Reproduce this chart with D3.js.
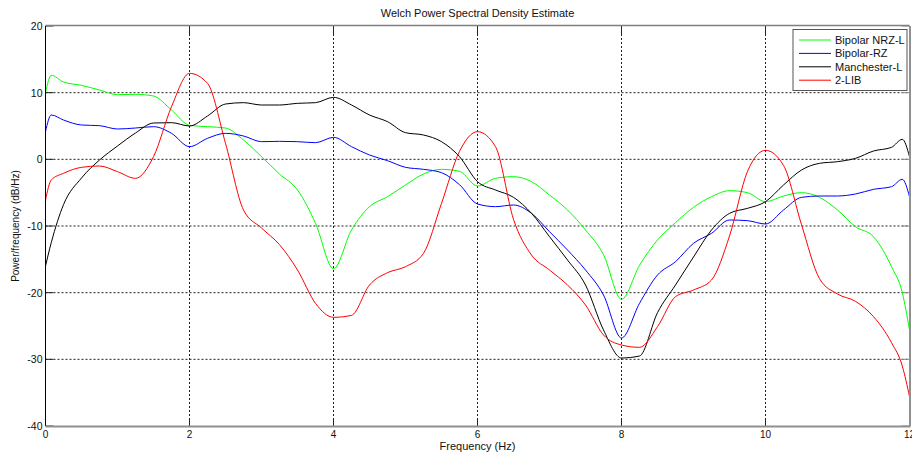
<!DOCTYPE html>
<html>
<head>
<meta charset="utf-8">
<script src="https://cdn.jsdelivr.net/npm/d3@7"></script>
<style>
body { margin: 0; background: #fff; overflow: hidden; }
text { font-family: "Liberation Sans", Arial, sans-serif; }
</style>
</head>
<body>
<div id="chart"></div>
<script>
var width = 912, height = 454;

// frequency grid (Hz)
var freq = [0, 0.08, 0.25, 0.5, 0.75, 1, 1.25, 1.5, 1.75, 2, 2.25, 2.5, 2.75, 3, 3.25, 3.5, 3.75,
  4, 4.25, 4.5, 4.75, 5, 5.25, 5.5, 5.75, 6, 6.25, 6.5, 6.75, 7, 7.25, 7.5, 7.75,
  8, 8.25, 8.5, 8.75, 9, 9.25, 9.5, 9.75, 10, 10.25, 10.5, 10.75, 11, 11.25, 11.5, 11.75, 11.9, 12];

var nrzL = [10, 12.6, 11.6, 11.1, 10.4, 9.7, 9.75, 9.5, 7.4, 5.1, 4.9, 4.7, 2.9, 0.4, -2.2, -4.6, -9.6,
  -16.4, -10.6, -7.1, -5.6, -3.85, -2.2, -1.5, -1.8, -4.0, -2.85, -2.6, -3.35, -5.35, -7.6, -10.6, -14.3,
  -21, -15.9, -12.1, -9.5, -7.2, -5.6, -4.7, -5.0, -6.35, -5.5, -5.0, -5.7, -7.6, -10.1, -11.6, -16.1, -20, -25.6];

var bipolarRZ = [4.15, 6.65, 5.9, 5.15, 5.05, 4.55, 4.7, 4.9, 3.9, 1.9, 3.15, 3.9, 3.5, 2.65, 2.7, 2.65, 2.5,
  3.3, 1.9, 0.65, -0.2, -1.2, -1.5, -2.0, -3.8, -6.7, -7.1, -6.85, -8.1, -10.85, -13.6, -16.6, -20.35,
  -26.8, -21.6, -17.35, -15.35, -12.6, -11.1, -9.1, -9.2, -9.7, -7.6, -5.7, -5.5, -5.5, -5.2, -4.5, -4.1, -3.0, -5.6];

var manchester = [-16, -12.5, -6.8, -2.8, -0.1, 2.0, 3.95, 5.45, 5.5, 5.0, 6.5, 8.3, 8.5, 8.15, 8.15, 8.4, 8.5,
  9.3, 8.15, 6.65, 5.65, 4.0, 3.65, 2.65, 0.4, -3.35, -4.6, -5.7, -8.1, -11.6, -15.1, -18.85, -25.6,
  -29.8, -29.5, -23.0, -18.85, -14.65, -10.6, -8.1, -7.35, -6.35, -3.85, -1.6, -0.6, -0.35, 0.15, 1.25, 1.8, 3.0, 0.4];

var lib2 = [-6.1, -3.1, -2.1, -1.2, -1.0, -1.85, -2.85, 0.4, 7.9, 12.9, 11.4, 2.4, -7.6, -10.3, -12.8, -16.6, -21.6,
  -23.7, -23.4, -18.85, -17.0, -16.1, -14.1, -6.6, 1.2, 4.15, 1.9, -9.0, -14.35, -16.6, -18.85, -21.85, -26.35,
  -27.85, -28.2, -25.1, -20.6, -19.6, -18.1, -11.5, -1.8, 1.35, -0.9, -9.8, -17.9, -20.2, -21.3, -23.6, -27.5, -31, -35.6];

var seriesNames = ["Bipolar NRZ-L", "Bipolar-RZ", "Manchester-L", "2-LIB"];
var seriesColors = ["#00ff00", "#0000ff", "#000000", "#ff0000"];
var seriesValues = [nrzL, bipolarRZ, manchester, lib2];

var xTicks = [0, 2, 4, 6, 8, 10, 12];
var yTicks = [-40, -30, -20, -10, 0, 10, 20];

var plotLeft = 45.5, plotRight = 909.5, plotTop = 26, plotBottom = 426;

var svg = d3.select("#chart").append("svg")
  .attr("width", width)
  .attr("height", height);

var x = d3.scaleLinear().domain([0, 12]).range([plotLeft, plotRight]);
var y = d3.scaleLinear().domain([-40, 20]).range([plotBottom, plotTop]);

// grid
svg.append("g").selectAll("line")
  .data(xTicks.slice(1, -1))
  .enter().append("line")
  .attr("x1", d => x(d)).attr("x2", d => x(d))
  .attr("y1", plotTop).attr("y2", plotBottom)
  .attr("stroke", "#222").attr("stroke-width", 1)
  .attr("stroke-dasharray", "2,2");

svg.append("g").selectAll("line")
  .data(yTicks.slice(1, -1))
  .enter().append("line")
  .attr("y1", d => y(d)).attr("y2", d => y(d))
  .attr("x1", plotLeft).attr("x2", plotRight)
  .attr("stroke", "#222").attr("stroke-width", 1)
  .attr("stroke-dasharray", "2,2");

// tick marks (inside)
var tickLen = 8;
svg.append("g").selectAll("line")
  .data(xTicks)
  .enter().append("line")
  .attr("x1", d => x(d)).attr("x2", d => x(d))
  .attr("y1", plotBottom).attr("y2", plotBottom - tickLen)
  .attr("stroke", "#222");
svg.append("g").selectAll("line")
  .data(xTicks)
  .enter().append("line")
  .attr("x1", d => x(d)).attr("x2", d => x(d))
  .attr("y1", plotTop).attr("y2", plotTop + tickLen)
  .attr("stroke", "#222");
svg.append("g").selectAll("line")
  .data(yTicks)
  .enter().append("line")
  .attr("y1", d => y(d)).attr("y2", d => y(d))
  .attr("x1", plotLeft).attr("x2", plotLeft + tickLen)
  .attr("stroke", "#222");
svg.append("g").selectAll("line")
  .data(yTicks)
  .enter().append("line")
  .attr("y1", d => y(d)).attr("y2", d => y(d))
  .attr("x1", plotRight).attr("x2", plotRight - tickLen)
  .attr("stroke", "#888");

// series lines
var line = d3.line()
  .x((d, i) => x(freq[i]))
  .y(d => y(d))
  .curve(d3.curveMonotoneX);

svg.append("defs").append("clipPath").attr("id", "plotclip")
  .append("rect").attr("x", plotLeft).attr("y", plotTop)
  .attr("width", plotRight - plotLeft).attr("height", plotBottom - plotTop);

svg.append("g").attr("clip-path", "url(#plotclip)")
  .selectAll("path")
  .data(seriesValues)
  .enter().append("path")
  .attr("d", line)
  .attr("fill", "none")
  .attr("stroke", (d, i) => seriesColors[i])
  .attr("stroke-width", 1);

// frame
svg.append("line").attr("x1", plotLeft).attr("x2", plotRight).attr("y1", plotTop - 0.5).attr("y2", plotTop - 0.5)
  .attr("stroke", "#808080").attr("stroke-width", 1.5);
svg.append("line").attr("x1", plotLeft).attr("x2", plotLeft).attr("y1", plotTop).attr("y2", plotBottom)
  .attr("stroke", "#000");
svg.append("line").attr("x1", plotLeft).attr("x2", plotRight + 1).attr("y1", plotBottom + 0.5).attr("y2", plotBottom + 0.5)
  .attr("stroke", "#909090").attr("stroke-width", 2);
svg.append("line").attr("x1", plotRight + 0.5).attr("x2", plotRight + 0.5).attr("y1", plotTop).attr("y2", plotBottom)
  .attr("stroke", "#909090").attr("stroke-width", 2);

// tick labels
svg.append("g").selectAll("text")
  .data(xTicks)
  .enter().append("text")
  .attr("x", d => x(d))
  .attr("y", plotBottom + 12)
  .attr("text-anchor", "middle")
  .attr("font-size", "10px")
  .attr("fill", "#111")
  .text(d => d);

svg.append("g").selectAll("text")
  .data(yTicks)
  .enter().append("text")
  .attr("x", plotLeft - 3)
  .attr("y", d => y(d) + 4)
  .attr("text-anchor", "end")
  .attr("font-size", "10.5px")
  .attr("fill", "#111")
  .text(d => d);

// title and axis labels
svg.append("text")
  .attr("x", (plotLeft + plotRight) / 2).attr("y", 17)
  .attr("text-anchor", "middle").attr("font-size", "11px").attr("fill", "#111")
  .text("Welch Power Spectral Density Estimate");

svg.append("text")
  .attr("x", (plotLeft + plotRight) / 2).attr("y", 450)
  .attr("text-anchor", "middle").attr("font-size", "11px").attr("fill", "#111")
  .text("Frequency (Hz)");

svg.append("text")
  .attr("transform", "translate(19," + ((plotTop + plotBottom) / 2) + ") rotate(-90)")
  .attr("text-anchor", "middle").attr("font-size", "10px").attr("fill", "#111")
  .text("Power/frequency (dB/Hz)");

// legend
var lg = svg.append("g").attr("transform", "translate(793,29.5)");
lg.append("rect")
  .attr("width", 114).attr("height", 61)
  .attr("fill", "#fff").attr("stroke", "#555");
var rows = lg.selectAll("g.row")
  .data(seriesNames)
  .enter().append("g")
  .attr("transform", (d, i) => "translate(0," + (10.5 + i * 13.4) + ")");
rows.append("line")
  .attr("x1", 6).attr("x2", 38)
  .attr("stroke", (d, i) => seriesColors[i]).attr("stroke-width", 1);
rows.append("text")
  .attr("x", 42).attr("y", 4)
  .attr("font-size", "11px").attr("fill", "#111")
  .text(d => d);
</script>
</body>
</html>
